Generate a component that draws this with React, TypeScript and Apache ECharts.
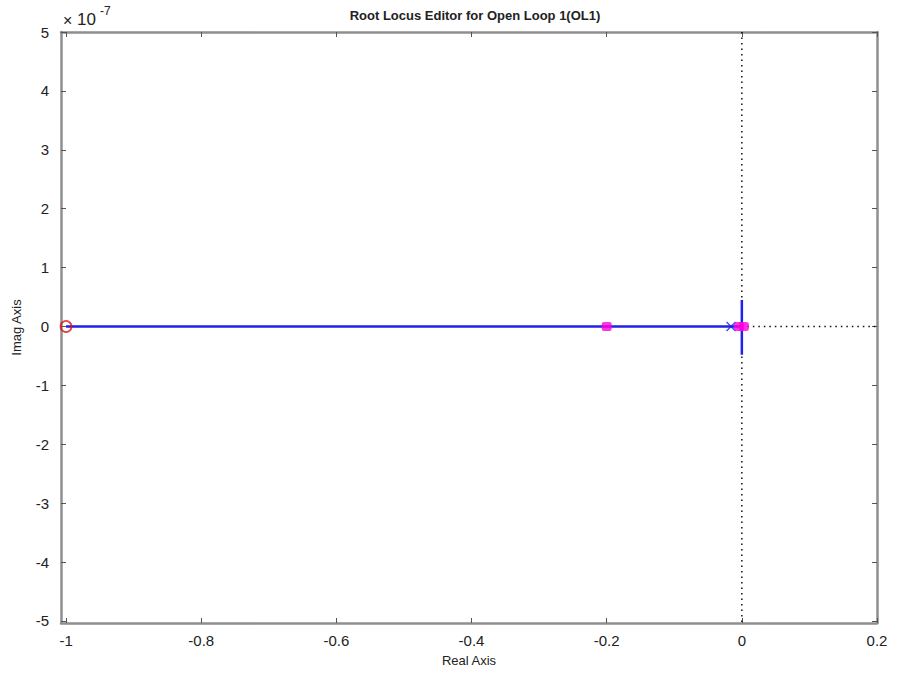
import React, { useEffect, useRef } from "react";
import * as echarts from "echarts";

const realTicks = [-1, -0.8, -0.6, -0.4, -0.2, 0, 0.2];
const imagTicks = [-5, -4, -3, -2, -1, 0, 1, 2, 3, 4, 5];

// imaginary values are in units of 1e-7
const locusReal = [-1, 0];
const locusImag = [0, 0];
const branchReal = [0, 0];
const branchImag = [0.45, -0.48];
const zeroReal = [-1];
const zeroImag = [0];
const poleReal = [-0.016];
const poleImag = [0];
const clPoleReal = [-0.2, -0.004, 0.003];
const clPoleImag = [0, 0, 0];
const vGuideReal = [0, 0];
const vGuideImag = [5, -5.035];
const hGuideReal = [0, 0.2];
const hGuideImag = [0, 0];

const zip = (a: number[], b: number[]) => a.map((v, i) => [v, b[i]]);

const FONT = "Liberation Sans, Arial, sans-serif";
const FRAME = "#8f8f8f";

export default function App() {
  const ref = useRef<HTMLDivElement>(null);
  useEffect(() => {
    if (!ref.current) return;
    const chart = echarts.init(ref.current, null, { renderer: "svg" });
    const xmin = -1.0075;
    const ymin = -5.035;
    const baseX = {
      type: "value" as const,
      min: xmin,
      max: 0.2,
      splitLine: { show: false },
      axisLine: { show: true, onZero: false, lineStyle: { color: FRAME, width: 2.5 } },
      axisTick: { inside: true, length: 5, customValues: realTicks, lineStyle: { color: "#555", width: 1 } },
    };
    const baseY = {
      type: "value" as const,
      min: ymin,
      max: 5,
      splitLine: { show: false },
      axisLine: { show: true, onZero: false, lineStyle: { color: FRAME, width: 2.5 } },
      axisTick: { inside: true, length: 5, customValues: imagTicks, lineStyle: { color: "#555", width: 1 } },
    };
    chart.setOption({
      animation: false,
      backgroundColor: "#ffffff",
      title: {
        text: "Root Locus Editor for Open Loop 1(OL1)",
        left: 470,
        textAlign: "center",
        top: 4,
        textStyle: { fontFamily: FONT, fontSize: 13, fontWeight: "bold", color: "#222" },
      },
      grid: { left: 61, right: 20, top: 32, bottom: 51 },
      xAxis: [
        {
          ...baseX,
          position: "bottom",
          name: "Real Axis",
          nameLocation: "middle",
          nameGap: 31,
          nameTextStyle: { fontFamily: FONT, fontSize: 13, color: "#222" },
          axisLabel: {
            customValues: realTicks,
            fontFamily: FONT,
            fontSize: 15,
            color: "#222",
            margin: 10,
            formatter: (v: number) => String(Math.round(v * 10) / 10),
          },
        },
        { ...baseX, position: "top", axisLabel: { show: false } },
      ],
      yAxis: [
        {
          ...baseY,
          position: "left",
          name: "Imag Axis",
          nameLocation: "middle",
          nameGap: 38,
          nameTextStyle: { fontFamily: FONT, fontSize: 13, color: "#222" },
          axisLabel: {
            customValues: imagTicks,
            fontFamily: FONT,
            fontSize: 15,
            color: "#222",
            margin: 12,
          },
        },
        { ...baseY, position: "right", axisLabel: { show: false } },
      ],
      graphic: [
        {
          type: "text",
          left: 63,
          top: 12,
          style: { text: "×", fontFamily: FONT, fontSize: 16, fill: "#222" },
        },
        {
          type: "text",
          left: 77,
          top: 11,
          style: { text: "10", fontFamily: FONT, fontSize: 17, fill: "#222" },
        },
        {
          type: "text",
          left: 100,
          top: 5,
          style: { text: "-7", fontFamily: FONT, fontSize: 12, fill: "#222" },
        },
      ],
      series: [
        {
          type: "line",
          data: zip(vGuideReal, vGuideImag),
          symbol: "none",
          lineStyle: { color: "#111", width: 1.5, type: [1.5, 4] },
          z: 1,
        },
        {
          type: "line",
          data: zip(hGuideReal, hGuideImag),
          symbol: "none",
          lineStyle: { color: "#111", width: 1.5, type: [1.5, 4] },
          z: 1,
        },
        {
          type: "line",
          data: zip(locusReal, locusImag),
          symbol: "none",
          lineStyle: { color: "#2020e8", width: 2.5 },
          z: 2,
        },
        {
          type: "line",
          data: zip(branchReal, branchImag),
          symbol: "none",
          lineStyle: { color: "#2020e8", width: 2.5 },
          z: 2,
        },
        {
          type: "scatter",
          data: zip(poleReal, poleImag),
          symbol: "path://M0,0L10,10M10,0L0,10",
          symbolSize: 9,
          itemStyle: { color: "none", borderColor: "#2020e8", borderWidth: 1.5 },
          z: 3,
        },
        {
          type: "scatter",
          data: zip(zeroReal, zeroImag),
          symbol: "circle",
          symbolSize: 11,
          itemStyle: { color: "none", borderColor: "#e01010", borderWidth: 1.8 },
          z: 4,
        },
        {
          type: "scatter",
          data: zip(clPoleReal, clPoleImag),
          symbol: "roundRect",
          symbolSize: [10, 9],
          itemStyle: { color: "#ff00dd" },
          z: 5,
        },
      ],
    });
    return () => chart.dispose();
  }, []);
  return (
    <div
      ref={ref}
      style={{ position: "fixed", left: 0, top: 0, width: 897, height: 674, background: "#fff" }}
    />
  );
}
